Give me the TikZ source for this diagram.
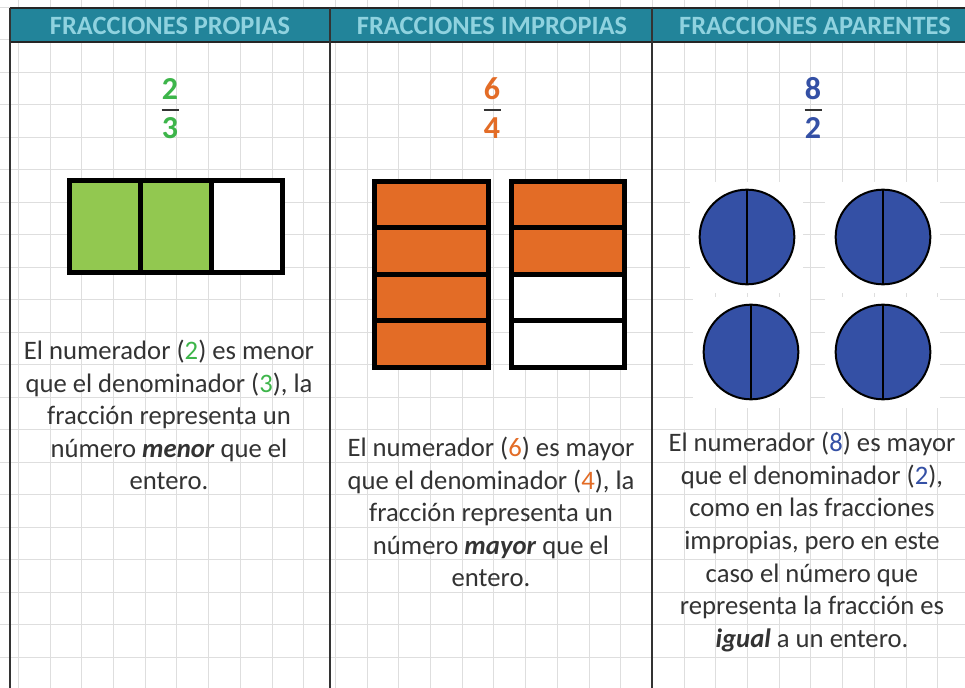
\documentclass[tikz,border=0pt]{standalone}
\usepackage{fontspec}
\setmainfont{Carlito}
\usepackage{xcolor}
\usetikzlibrary{positioning}
\definecolor{headteal}{HTML}{22849A}
\definecolor{headtext}{HTML}{8FD2DF}
\definecolor{gridgray}{HTML}{DEDEDE}
\definecolor{propgreen}{HTML}{92C850}
\definecolor{numgreen}{HTML}{3DB54A}
\definecolor{imporange}{HTML}{E36C26}
\definecolor{apblue}{HTML}{3450A5}
\definecolor{bodytext}{HTML}{333333}

\begin{document}
\begin{tikzpicture}[x=0.75pt,y=-0.75pt,
	head/.style={font=\fontsize{19.8}{22}\selectfont\bfseries,text=headtext},
	fracnum/.style={font=\fontsize{24}{26}\selectfont\bfseries},
	fracbar/.style={draw=bodytext,line width=1.5pt},
	body/.style={font=\fontsize{20}{24.4}\selectfont,text=bodytext,align=center},
	cell/.style={draw=black,line width=3.75pt},
	coin/.style={draw=black,line width=1.5pt,fill=apblue}]
	\useasboundingbox (0,0) rectangle (965,688);
	\fill[white] (0,0) rectangle (965,688);
	% cuadricula
	\foreach \gx in {18.3,50,...,965}
		\draw[gridgray,line width=0.6pt] (\gx,0)--(\gx,688);
	\foreach \gy in {7,39.5,...,688}
		\draw[gridgray,line width=0.6pt] (0,\gy)--(965,\gy);
	% encabezado
	\fill[headteal] (10,8) rectangle (965,42);
	\draw[line width=1.5pt,black!85] (10,8)--(965,8);
	\draw[line width=1.5pt,black!85] (10,42)--(965,42);
	\draw[line width=1.2pt,black!80] (10,8)--(10,688);
	\draw[line width=1.2pt,black!80] (330,8)--(330,688);
	\draw[line width=1.2pt,black!80] (652,8)--(652,688);
	\node[head] (hprop) at (170,25.5) {FRACCIONES PROPIAS};
	\node[head] (himp) at (492,25.5) {FRACCIONES IMPROPIAS};
	\node[head] (hapa) at (815,25.5) {FRACCIONES APARENTES};
	% fracciones
	\node[fracnum,text=numgreen] (pnum) at (170,89) {2};
	\node[fracnum,text=numgreen] (pden) at (170,128) {3};
	\draw[fracbar] (161.5,110)--(178.5,110);
	\node[fracnum,text=imporange] (inum) at (492,89) {6};
	\node[fracnum,text=imporange] (iden) at (492,128) {4};
	\draw[fracbar] (483.5,110)--(500.5,110);
	\node[fracnum,text=apblue] (anum) at (813,89) {8};
	\node[fracnum,text=apblue] (aden) at (813,128) {2};
	\draw[fracbar] (804.5,110)--(821.5,110);
	% propias: 2 de 3
	\fill[propgreen] (69.5,180.5) rectangle (211,272.5);
	\fill[white] (211,180.5) rectangle (282.5,272.5);
	\draw[cell] (69.5,180.5) rectangle (282.5,272.5);
	\draw[cell] (140,180.5)--(140,272.5);
	\draw[cell] (211,180.5)--(211,272.5);
	% impropias: 6 de 4
	\fill[imporange] (374.5,181.5) rectangle (488.5,367.5);
	\draw[cell] (374.5,181.5) rectangle (488.5,367.5);
	\draw[cell] (374.5,228)--(488.5,228);
	\draw[cell] (374.5,274.5)--(488.5,274.5);
	\draw[cell] (374.5,321)--(488.5,321);
	\fill[imporange] (511.5,181.5) rectangle (624.5,274.5);
	\fill[white] (511.5,274.5) rectangle (624.5,367.5);
	\draw[cell] (511.5,181.5) rectangle (624.5,367.5);
	\draw[cell] (511.5,228)--(624.5,228);
	\draw[cell] (511.5,274.5)--(624.5,274.5);
	\draw[cell] (511.5,321)--(624.5,321);
	% aparentes: 8 de 2
	\fill[white] (690,182) rectangle (803,293);
	\fill[white] (825,182) rectangle (940,293);
	\fill[white] (693,297) rectangle (810,408);
	\fill[white] (825,297) rectangle (940,408);
	\foreach \cx/\cy in {747/237,883/237,751/352,883/352}{
		\draw[coin] (\cx,\cy) circle (35.5pt);
		\draw[line width=1.5pt] (\cx,\cy-47)--(\cx,\cy+47);
	}
	% textos
	\node[body] (tprop) at (169,415) {El numerador (\textcolor{numgreen}{2}) es menor\\
		que el denominador (\textcolor{numgreen}{3}), la\\
		fracción representa un\\
		número \textbf{\textit{menor}} que el\\
		entero.};
	\node[body] (timp) at (491,512) {El numerador (\textcolor{imporange}{6}) es mayor\\
		que el denominador (\textcolor{imporange}{4}), la\\
		fracción representa un\\
		número \textbf{\textit{mayor}} que el\\
		entero.};
	\node[body] (tapa) at (812,542) {El numerador (\textcolor{apblue}{8}) es mayor\\
		que el denominador (\textcolor{apblue}{2}),\\
		como en las fracciones\\
		impropias, pero en este\\
		caso el número que\\
		representa la fracción es\\
		\textbf{\textit{igual}} a un entero.};
\end{tikzpicture}
\end{document}
